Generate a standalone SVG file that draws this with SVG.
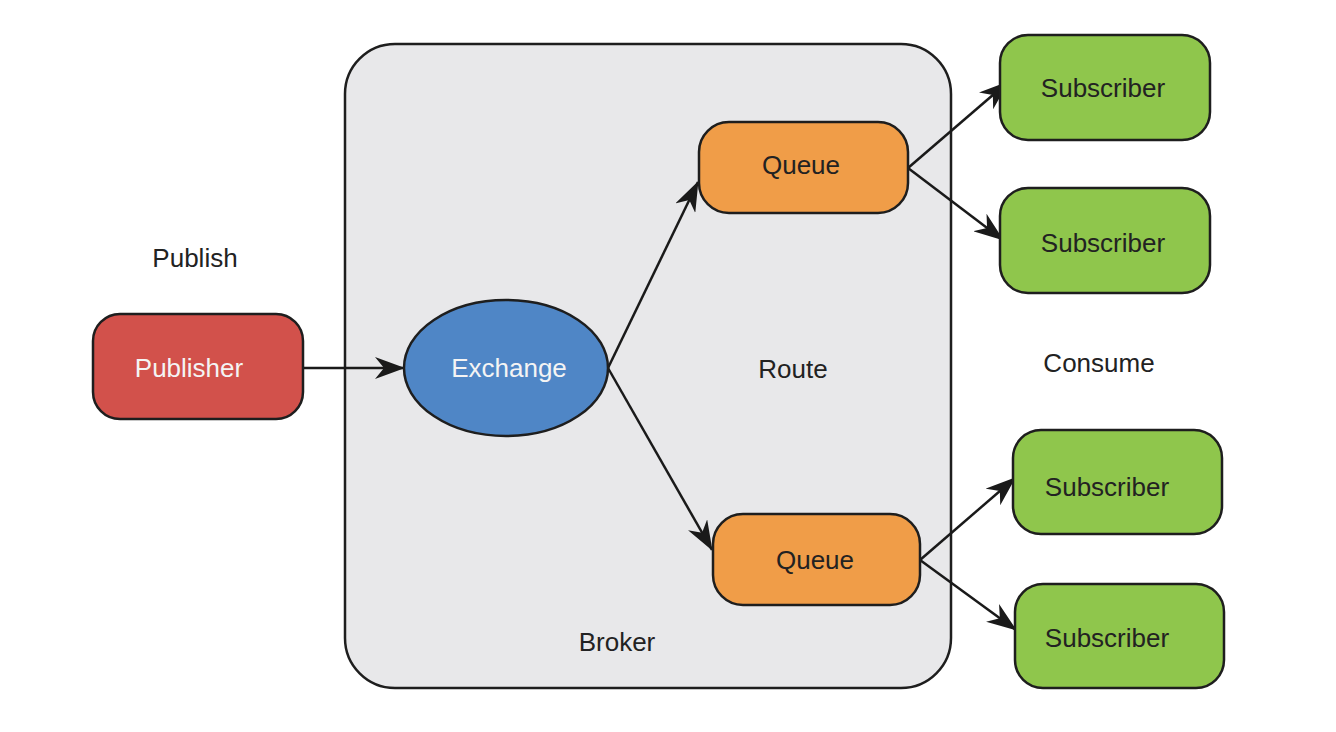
<svg xmlns="http://www.w3.org/2000/svg" width="1336" height="732" viewBox="0 0 1336 732">
<defs>
<style>
.lbl{font-family:"Liberation Sans",Arial,sans-serif;font-size:26px;fill:#222;text-anchor:middle;dominant-baseline:central}
.wt{fill:#f4f4f4}
.node{stroke:#1e1e1e;stroke-width:2.5}
.edge{stroke:#1a1a1a;stroke-width:2.5;fill:none;marker-end:url(#ah)}
</style>
<marker id="ah" viewBox="0 0 30 22" refX="29" refY="11" markerWidth="30" markerHeight="22" markerUnits="userSpaceOnUse" orient="auto">
<path d="M0,0 L30,11 L0,22 L9,11 z" fill="#1a1a1a"/>
</marker>
</defs>
<rect width="1336" height="732" fill="#ffffff"/>
<g id="broker">
<rect class="node" x="345" y="44" width="606" height="644" rx="50" fill="#e8e8ea"/>
<text class="lbl" x="617" y="642">Broker</text>
</g>
<text class="lbl" x="195" y="258">Publish</text>
<text class="lbl" x="793" y="369">Route</text>
<text class="lbl" x="1099" y="363">Consume</text>
<g id="connectors">
<line class="edge" x1="303" y1="368" x2="404" y2="368"/>
<line class="edge" x1="608" y1="368" x2="698" y2="182"/>
<line class="edge" x1="608" y1="368" x2="712" y2="550"/>
<line class="edge" x1="908" y1="168" x2="1008" y2="82"/>
<line class="edge" x1="908" y1="168" x2="1003" y2="240"/>
<line class="edge" x1="920" y1="560" x2="1015" y2="478"/>
<line class="edge" x1="920" y1="560" x2="1016" y2="630"/>
</g>
<g id="publisher">
<rect class="node" x="93" y="314" width="210" height="105" rx="27" fill="#d2514b"/>
<text class="lbl wt" x="189" y="368">Publisher</text>
</g>
<g id="exchange">
<ellipse class="node" cx="506" cy="368" rx="102" ry="68" fill="#4f86c6"/>
<text class="lbl wt" x="509" y="368">Exchange</text>
</g>
<g id="queue1">
<rect class="node" x="699" y="122" width="209" height="91" rx="30" fill="#f09d48"/>
<text class="lbl" x="801" y="165">Queue</text>
</g>
<g id="queue2">
<rect class="node" x="713" y="514" width="207" height="91" rx="30" fill="#f09d48"/>
<text class="lbl" x="815" y="560">Queue</text>
</g>
<g id="sub1">
<rect class="node" x="1000" y="35" width="210" height="105" rx="28" fill="#8fc64c"/>
<text class="lbl" x="1103" y="88">Subscriber</text>
</g>
<g id="sub2">
<rect class="node" x="1000" y="188" width="210" height="105" rx="28" fill="#8fc64c"/>
<text class="lbl" x="1103" y="243">Subscriber</text>
</g>
<g id="sub3">
<rect class="node" x="1013" y="430" width="209" height="104" rx="28" fill="#8fc64c"/>
<text class="lbl" x="1107" y="487">Subscriber</text>
</g>
<g id="sub4">
<rect class="node" x="1015" y="584" width="209" height="104" rx="28" fill="#8fc64c"/>
<text class="lbl" x="1107" y="638">Subscriber</text>
</g>
</svg>
